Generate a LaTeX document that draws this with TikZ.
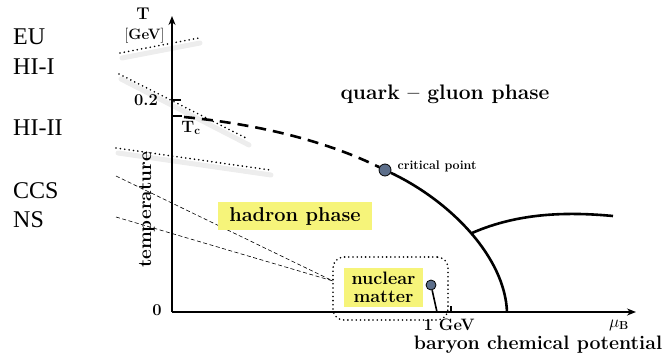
\documentclass[tikz,border=0pt]{standalone}
\usepackage{fontspec}
\setmainfont{Latin Modern Roman}
\newfontfamily\sidefont{Liberation Serif}
\usetikzlibrary{arrows.meta}
\definecolor{hlyellow}{RGB}{246,244,122}
\definecolor{ptblue}{RGB}{92,110,138}
\begin{document}
\begin{tikzpicture}[x=1pt,y=-1pt,
  axis/.style={line width=2.6pt,-{Stealth[length=9pt,width=7pt]}},
  phaseline/.style={line width=2.6pt},
  dotline/.style={line width=1.8pt,line cap=round,dash pattern=on 0pt off 4.4pt},
  dotshadow/.style={line width=5pt,black!7,line cap=round},
  thindash/.style={line width=0.6pt,dash pattern=on 4pt off 2.5pt},
  ptcircle/.style={circle,draw=black,line width=0.8pt,fill=ptblue,inner sep=0pt},
  yellowbox/.style={fill=hlyellow,font=\bfseries\fontsize{20}{20}\selectfont,align=center},
  sidelab/.style={anchor=base west,inner sep=0pt,font=\sidefont\fontsize{24}{24}\selectfont},
  ticklab/.style={inner sep=0.5pt,font=\bfseries\fontsize{16.5}{17}\selectfont}]
\useasboundingbox (0,0) rectangle (668,358);
% side labels
\node[sidelab] (eu) at (13,45) {EU};
\node[sidelab] (hi1) at (13,75) {HI-I};
\node[sidelab] (hi2) at (13,136) {HI-II};
\node[sidelab] (ccs) at (13,198) {CCS};
\node[sidelab] (ns) at (13,227) {NS};
% coordinates
\coordinate (o) at (172,312);
\coordinate (ytop) at (172,16);
\coordinate (xend) at (636,312);
% dotted shadows
\draw[dotshadow] (122,58) -- (200,43);
\draw[dotshadow] (121,79) -- (249,145);
\draw[dotshadow] (118,153) -- (271,175);
% dotted lines
\coordinate (eua) at (120,53); \coordinate (eub) at (199,38);
\coordinate (h1a) at (119,74); \coordinate (h1b) at (248,139);
\coordinate (h2a) at (116,148); \coordinate (h2b) at (270,170);
\draw[dotline] (eua) -- (eub);
\draw[dotline] (h1a) -- (h1b);
\draw[dotline] (h2a) -- (h2b);
% thin dashed lines
\coordinate (ccsa) at (116,176);
\coordinate (nsa) at (116,217);
\coordinate (conv) at (333,281);
\draw[thindash] (ccsa) -- (conv);
\draw[thindash] (nsa) -- (conv);
% axes
\draw[axis] (o) -- (ytop);
\draw[axis] (o) -- (xend);
% ticks
\draw[line width=2pt] (172,100) -- (181,100);
\draw[line width=2pt] (172,116) -- (182,116);
\draw[line width=1.6pt] (451,306) -- (451,312);
% axis labels
\node[font=\bfseries\fontsize{17}{17}\selectfont] (tlab) at (143,14) {T};
\node[font=\fontsize{15}{15}\selectfont] (gev) at (144.5,36) {[\textbf{GeV}]};
\node[ticklab] (l02) at (146,100) {0.2};
\node[ticklab] (ltc) at (191,128) {T$_{\mathbf c}$};
\node[ticklab] (l0) at (157,310) {0};
\node[ticklab,font=\bfseries\fontsize{19}{19}\selectfont,rotate=90] (templab) at (147,210) {temperature};
\node[ticklab] (l1gev) at (449,325) {1 GeV};
\node[ticklab] (lmu) at (619,325) {$\mu_{\mathbf B}$};
\node[inner sep=0.5pt,font=\bfseries\fontsize{19.5}{20}\selectfont] (bcp) at (538,345) {baryon chemical potential};
% phase lines
\node[ptcircle,minimum size=12pt] (cp) at (385,170) {};
\node[anchor=west,font=\bfseries\fontsize{12.5}{13}\selectfont] (cplab) at (394,166) {critical point};
\draw[phaseline,dash pattern=on 11pt off 7pt] (184,117) .. controls (265,125) and (330,143) .. (cp);
\coordinate (mu0) at (507,312);
\draw[phaseline] (cp) .. controls (452,202) and (505,258) .. (mu0);
\coordinate (br) at (472,233);
\coordinate (bre) at (613,216);
\draw[phaseline] (br) .. controls (520,212) and (570,212) .. (bre);
% labels
\node[font=\bfseries\fontsize{21}{21}\selectfont] (qg) at (445,94) {quark -- gluon phase};
\node[yellowbox,minimum width=154pt,minimum height=28pt,inner sep=0pt] (hp) at (295,216) {hadron phase};
\node[yellowbox,minimum width=79pt,minimum height=39pt,inner sep=0pt,font=\bfseries\fontsize{18}{18}\selectfont] (nm) at (383.5,287.5) {nuclear\\matter};
\node[draw,line width=1.8pt,line cap=round,dash pattern=on 0pt off 4.2pt,rounded corners=11pt,minimum width=115pt,minimum height=63pt] (nmbox) at (390.5,288.5) {};
\node[ptcircle,minimum size=10pt] (nmp) at (431,285) {};
\coordinate (nmfoot) at (437,312);
\draw[line width=1.6pt] (nmp) -- (nmfoot);
\end{tikzpicture}
\end{document}
